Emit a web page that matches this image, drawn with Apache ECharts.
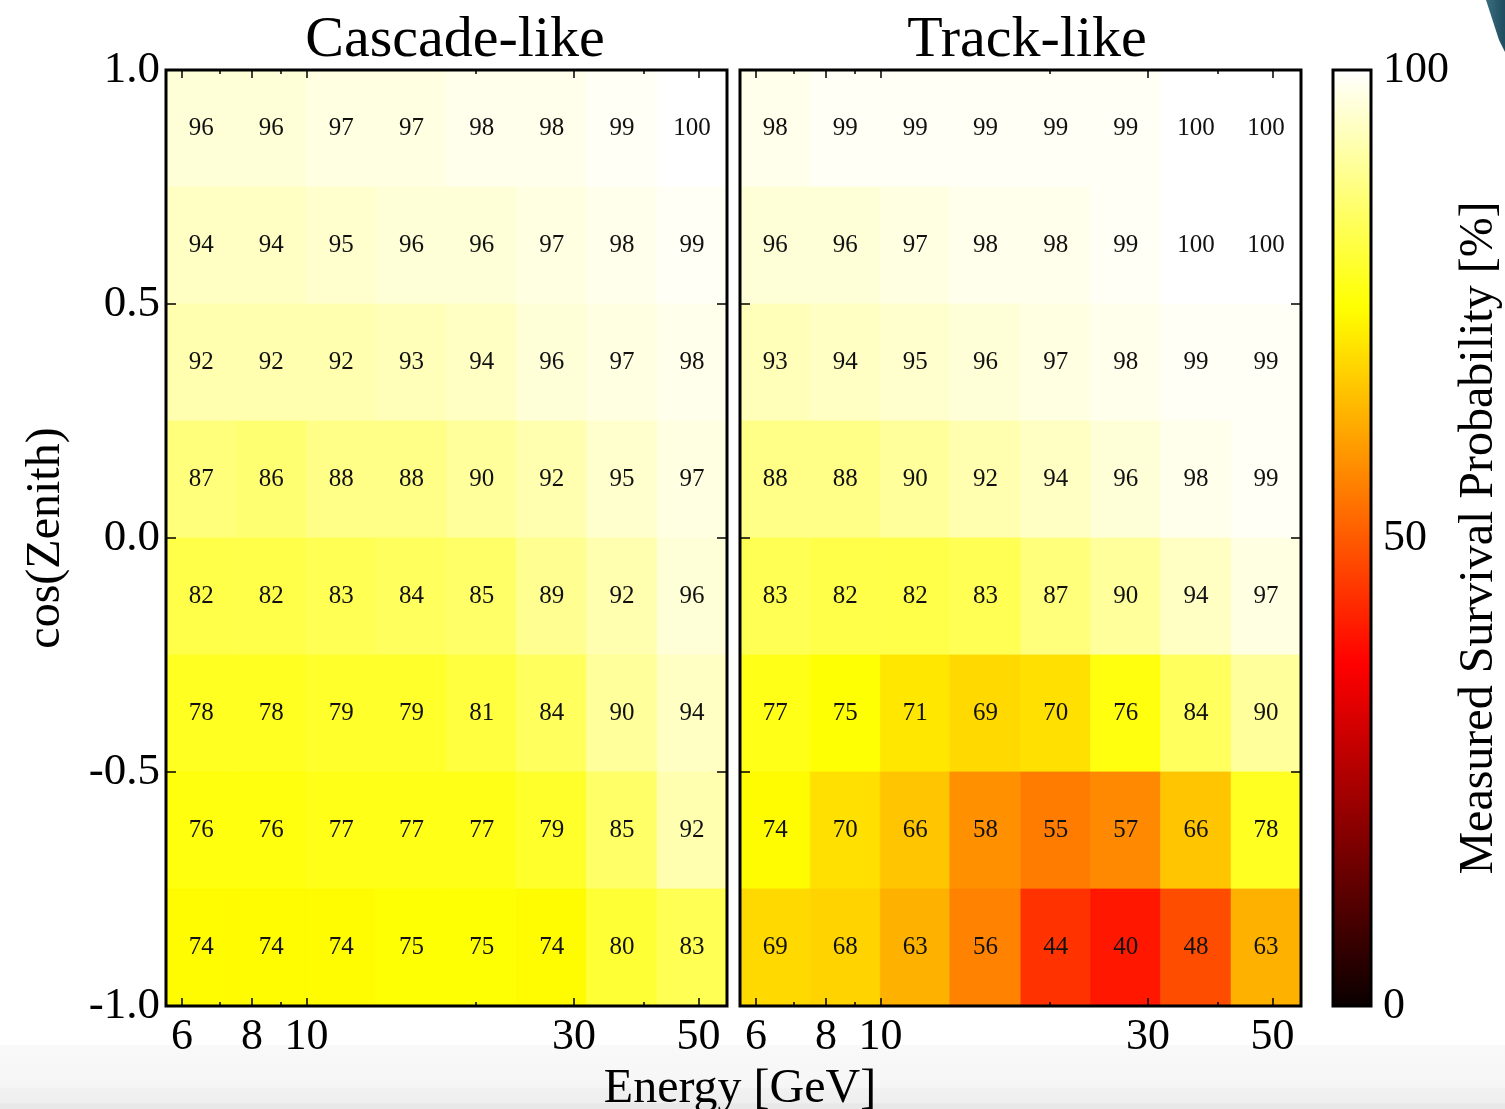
<!DOCTYPE html>
<html>
<head>
<meta charset="utf-8">
<title>Measured Survival Probability</title>
<script src="https://cdn.jsdelivr.net/npm/echarts@6/dist/echarts.min.js"></script>
<style>
  html, body { margin: 0; padding: 0; background: #ffffff; }
  #chart { width: 1505px; height: 1109px; }
</style>
</head>
<body>
<div id="chart"></div>
<script>
// Bin edges: energy in GeV (log-spaced), cos(zenith) linear
const energyEdges = [5.62, 7.50, 10.0, 13.3, 17.8, 23.7, 31.6, 42.2, 56.2];
const cosZenithEdges = [-1.0, -0.75, -0.5, -0.25, 0.0, 0.25, 0.5, 0.75, 1.0];

// Tick positions
const energyMajorTicks = [6, 8, 10, 30, 50];
const energyMinorTicks = [7, 9, 20, 40];
const cosZenithTicks = [-1.0, -0.5, 0.0, 0.5, 1.0];
const colorbarTicks = [0, 50, 100];

// Survival probability [%], rows from cos(zenith)=1 (top) down to -1 (bottom)
const cascadeRows = [
  [96, 96, 97, 97, 98, 98, 99, 100],
  [94, 94, 95, 96, 96, 97, 98, 99],
  [92, 92, 92, 93, 94, 96, 97, 98],
  [87, 86, 88, 88, 90, 92, 95, 97],
  [82, 82, 83, 84, 85, 89, 92, 96],
  [78, 78, 79, 79, 81, 84, 90, 94],
  [76, 76, 77, 77, 77, 79, 85, 92],
  [74, 74, 74, 75, 75, 74, 80, 83]
];
const trackRows = [
  [98, 99, 99, 99, 99, 99, 100, 100],
  [96, 96, 97, 98, 98, 99, 100, 100],
  [93, 94, 95, 96, 97, 98, 99, 99],
  [88, 88, 90, 92, 94, 96, 98, 99],
  [83, 82, 82, 83, 87, 90, 94, 97],
  [77, 75, 71, 69, 70, 76, 84, 90],
  [74, 70, 66, 58, 55, 57, 66, 78],
  [69, 68, 63, 56, 44, 40, 48, 63]
];

const SERIF = '"Liberation Serif", "DejaVu Serif", serif';
const log10 = Math.log10;

// "hot" colormap (black -> red -> yellow -> white)
function hot(t) {
  const r = t < 0.365079 ? 0.0416 + (1 - 0.0416) * t / 0.365079 : 1;
  const g = t < 0.365079 ? 0 : (t < 0.746032 ? (t - 0.365079) / (0.746032 - 0.365079) : 1);
  const b = t < 0.746032 ? 0 : (t - 0.746032) / (1 - 0.746032);
  const h = v => Math.round(Math.max(0, Math.min(1, v)) * 255).toString(16).padStart(2, '0');
  return '#' + h(r) + h(g) + h(b);
}
const hotPalette = [];
for (let i = 0; i <= 100; i++) hotPalette.push(hot(i / 100));

// Each cell: [log10(Elo), log10(Ehi), cosZlo, cosZhi, value]
function cells(rows) {
  const out = [];
  const nRows = rows.length;
  rows.forEach((row, r) => {
    const zi = nRows - 1 - r;
    row.forEach((v, c) => {
      out.push([log10(energyEdges[c]), log10(energyEdges[c + 1]),
                cosZenithEdges[zi], cosZenithEdges[zi + 1], v]);
    });
  });
  return out;
}

function renderCell(params, api) {
  const p0 = api.coord([api.value(0), api.value(3)]);
  const p1 = api.coord([api.value(1), api.value(2)]);
  const color = api.visual('color');
  return {
    type: 'group',
    children: [
      { type: 'rect',
        shape: { x: p0[0], y: p0[1], width: p1[0] - p0[0], height: p1[1] - p0[1] },
        style: { fill: color, stroke: color, lineWidth: 0.8 } },
      { type: 'text', z2: 5,
        style: { text: String(api.value(4)), x: (p0[0] + p1[0]) / 2, y: (p0[1] + p1[1]) / 2,
                 align: 'center', verticalAlign: 'middle',
                 font: '25px ' + SERIF, fill: '#111111' } }
    ]
  };
}

const xMin = log10(energyEdges[0]);
const xMax = log10(energyEdges[energyEdges.length - 1]);

function energyAxes(gridIndex) {
  const base = {
    type: 'value', gridIndex, min: xMin, max: xMax, z: 12,
    axisLine: { show: false, onZero: false }, splitLine: { show: false }
  };
  const tickStyle = { color: '#000', width: 1.5 };
  return [
    Object.assign({}, base, {
      position: 'bottom',
      axisTick: { inside: true, length: 8, lineStyle: tickStyle, customValues: energyMajorTicks.map(log10) },
      axisLabel: { customValues: energyMajorTicks.map(log10), margin: 9,
                   formatter: v => String(Math.round(Math.pow(10, v))),
                   fontFamily: SERIF, fontSize: 44, color: '#000' }
    }),
    Object.assign({}, base, {
      position: 'bottom',
      axisTick: { inside: true, length: 4, lineStyle: tickStyle, customValues: energyMinorTicks.map(log10) },
      axisLabel: { show: false }
    }),
    Object.assign({}, base, {
      position: 'top',
      axisTick: { inside: true, length: 8, lineStyle: tickStyle, customValues: energyMajorTicks.map(log10) },
      axisLabel: { show: false }
    }),
    Object.assign({}, base, {
      position: 'top',
      axisTick: { inside: true, length: 4, lineStyle: tickStyle, customValues: energyMinorTicks.map(log10) },
      axisLabel: { show: false }
    })
  ];
}

function zenithAxes(gridIndex, withLabels) {
  const base = {
    type: 'value', gridIndex, min: -1, max: 1, z: 12,
    axisLine: { show: false, onZero: false }, splitLine: { show: false },
    axisTick: { inside: true, length: 10, lineStyle: { color: '#000', width: 1.5 },
                customValues: cosZenithTicks }
  };
  const left = Object.assign({}, base, {
    position: 'left',
    axisLabel: withLabels
      ? { customValues: cosZenithTicks, formatter: v => v.toFixed(1), margin: 6,
          fontFamily: SERIF, fontSize: 45, color: '#000' }
      : { show: false }
  });
  if (withLabels) {
    Object.assign(left, {
      name: 'cos(Zenith)', nameLocation: 'middle', nameGap: 96,
      nameTextStyle: { fontFamily: SERIF, fontSize: 48, color: '#000' }
    });
  }
  const right = Object.assign({}, base, { position: 'right', axisLabel: { show: false } });
  return [left, right];
}

const gridBox = { top: 70, height: 936, show: true, borderColor: '#000', borderWidth: 3,
                  backgroundColor: 'transparent', z: 10 };

const option = {
  backgroundColor: '#ffffff',
  animation: false,
  title: [
    { text: 'Cascade-like', left: 450, top: 7, textAlign: 'center',
      textStyle: { fontFamily: SERIF, fontSize: 58, fontWeight: 'normal', color: '#000' } },
    { text: 'Track-like', left: 1022, top: 7, textAlign: 'center',
      textStyle: { fontFamily: SERIF, fontSize: 58, fontWeight: 'normal', color: '#000' } },
    { text: 'Energy [GeV]', left: 735, top: 1060, textAlign: 'center',
      textStyle: { fontFamily: SERIF, fontSize: 48, fontWeight: 'normal', color: '#000' } }
  ],
  graphic: [
    { type: 'rect', z: -100, silent: true,
      shape: { x: 0, y: 1045, width: 1505, height: 64 },
      style: { fill: { type: 'linear', x: 0, y: 0, x2: 0, y2: 1,
        colorStops: [
          { offset: 0, color: '#f9f9f9' }, { offset: 0.66, color: '#f6f6f6' },
          { offset: 0.68, color: '#f1f1f1' }, { offset: 0.9, color: '#efefef' },
          { offset: 0.92, color: '#e8e8e8' }, { offset: 1, color: '#e8e8e8' }] } } },
    { type: 'polygon', z: -100, silent: true,
      shape: { points: [[1486, 0], [1505, 0], [1505, 52], [1499, 40]] },
      style: { fill: { type: 'linear', x: 0, y: 0, x2: 1, y2: 0,
        colorStops: [{ offset: 0, color: '#3a6c80' }, { offset: 1, color: '#1f4c5e' }] } } }
  ],
  grid: [
    Object.assign({ left: 166, width: 561 }, gridBox),
    Object.assign({ left: 740, width: 561 }, gridBox),
    Object.assign({ left: 1333, width: 38 }, gridBox)
  ],
  xAxis: [
    ...energyAxes(0),
    ...energyAxes(1),
    { type: 'value', gridIndex: 2, min: 0, max: 1, show: false }
  ],
  yAxis: [
    ...zenithAxes(0, true),
    ...zenithAxes(1, false),
    { type: 'value', gridIndex: 2, position: 'right', min: 0, max: 100, z: 12,
      axisLine: { show: false, onZero: false }, splitLine: { show: false }, axisTick: { show: false },
      axisLabel: { customValues: colorbarTicks, margin: 12, fontFamily: SERIF, fontSize: 44, color: '#000' },
      name: 'Measured Survival Probability [%]', nameLocation: 'middle', nameGap: 84,
      nameTextStyle: { fontFamily: SERIF, fontSize: 48, color: '#000' } }
  ],
  visualMap: {
    type: 'continuous', min: 0, max: 100, dimension: 4, seriesIndex: [0, 1],
    calculable: false, realtime: false, hoverLink: false,
    left: 1333, top: 70, itemWidth: 38, itemHeight: 936, padding: 0,
    text: null, showLabel: false,
    inRange: { color: hotPalette }
  },
  series: [
    { name: 'Cascade-like', type: 'custom', xAxisIndex: 0, yAxisIndex: 0,
      encode: { x: [0, 1], y: [2, 3] }, data: cells(cascadeRows), renderItem: renderCell },
    { name: 'Track-like', type: 'custom', xAxisIndex: 4, yAxisIndex: 2,
      encode: { x: [0, 1], y: [2, 3] }, data: cells(trackRows), renderItem: renderCell }
  ]
};

const chart = echarts.init(document.getElementById('chart'), null, { renderer: 'canvas' });
chart.setOption(option);
</script>
</body>
</html>
